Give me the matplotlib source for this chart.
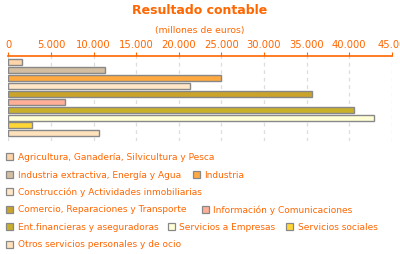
import matplotlib
matplotlib.use("Agg")
import matplotlib.pyplot as plt
from matplotlib.patches import Rectangle

# Datos (millones de euros)
sectores = [
    "Agricultura, Ganadería, Silvicultura y Pesca",
    "Industria extractiva, Energía y Agua",
    "Industria",
    "Construcción y Actividades inmobiliarias",
    "Comercio, Reparaciones y Transporte",
    "Información y Comunicaciones",
    "Ent.financieras y aseguradoras",
    "Servicios a Empresas",
    "Servicios sociales",
    "Otros servicios personales y de ocio",
]
valores = [1550, 11300, 25000, 21350, 35700, 6600, 40550, 42900, 2750, 10700]
colores = ["#FFD4A8", "#D3BEA2", "#FFA940", "#FFE6C6", "#C9A32A",
           "#FFAE98", "#C9B02A", "#FFFFD6", "#FFD633", "#FFE2BC"]
ticks = [0, 5000, 10000, 15000, 20000, 25000, 30000, 35000, 40000, 45000]
tick_labels = ["0", "5.000", "10.000", "15.000", "20.000", "25.000",
               "30.000", "35.000", "40.000", "45.00"]

naranja = "#FF6600"
W, H = 400, 255

fig = plt.figure(figsize=(W / 100, H / 100), dpi=100)

def fx(px):
    return px / W

def fy(py):
    return 1 - py / H

ax = fig.add_axes([fx(8.3), fy(142), fx(391.7) - fx(8.3), fy(56.5) - fy(142)])
ypos = list(range(len(valores)))
ax.barh(ypos, valores, height=0.76, color=colores, edgecolor="#888888", linewidth=1.0, zorder=3)
ax.set_xlim(0, 45000)
ax.set_ylim(9.97, -0.88)
ax.xaxis.tick_top()
ax.set_xticks(ticks)
ax.set_xticklabels(tick_labels, color=naranja, fontsize=7.2)
ax.tick_params(axis="x", direction="out", length=3, color=naranja, pad=2)
ax.set_yticks([])
for s in ["bottom", "left", "right"]:
    ax.spines[s].set_visible(False)
ax.spines["top"].set_color(naranja)
ax.spines["top"].set_linewidth(1.2)
ax.grid(axis="x", color="#DDDDDD", linestyle=(0, (3, 3)), linewidth=0.9, zorder=0)

fig.text(0.5, fy(10), "Resultado contable", ha="center", va="center",
         color=naranja, fontsize=9, fontweight="bold")
fig.text(0.5, fy(31), "(millones de euros)", ha="center", va="center",
         color=naranja, fontsize=6.7)

# Leyenda en filas
filas = [
    [(0, 6)],
    [(1, 6), (2, 192.7)],
    [(3, 6)],
    [(4, 6), (5, 201.7)],
    [(6, 6), (7, 167.7), (8, 286)],
    [(9, 6)],
]
ys = [157, 175, 192, 210, 227.5, 245]
for fila, yy in zip(filas, ys):
    for idx, x0 in fila:
        fig.patches.append(Rectangle((fx(x0), fy(yy + 3.5)), fx(7), fy(yy - 3.5) - fy(yy + 3.5),
                                     transform=fig.transFigure, facecolor=colores[idx],
                                     edgecolor="#888888", linewidth=0.9))
        fig.text(fx(x0 + 11.5), fy(yy), sectores[idx], ha="left", va="center",
                 color=naranja, fontsize=6.5)

fig.savefig("out.png", dpi=100)
